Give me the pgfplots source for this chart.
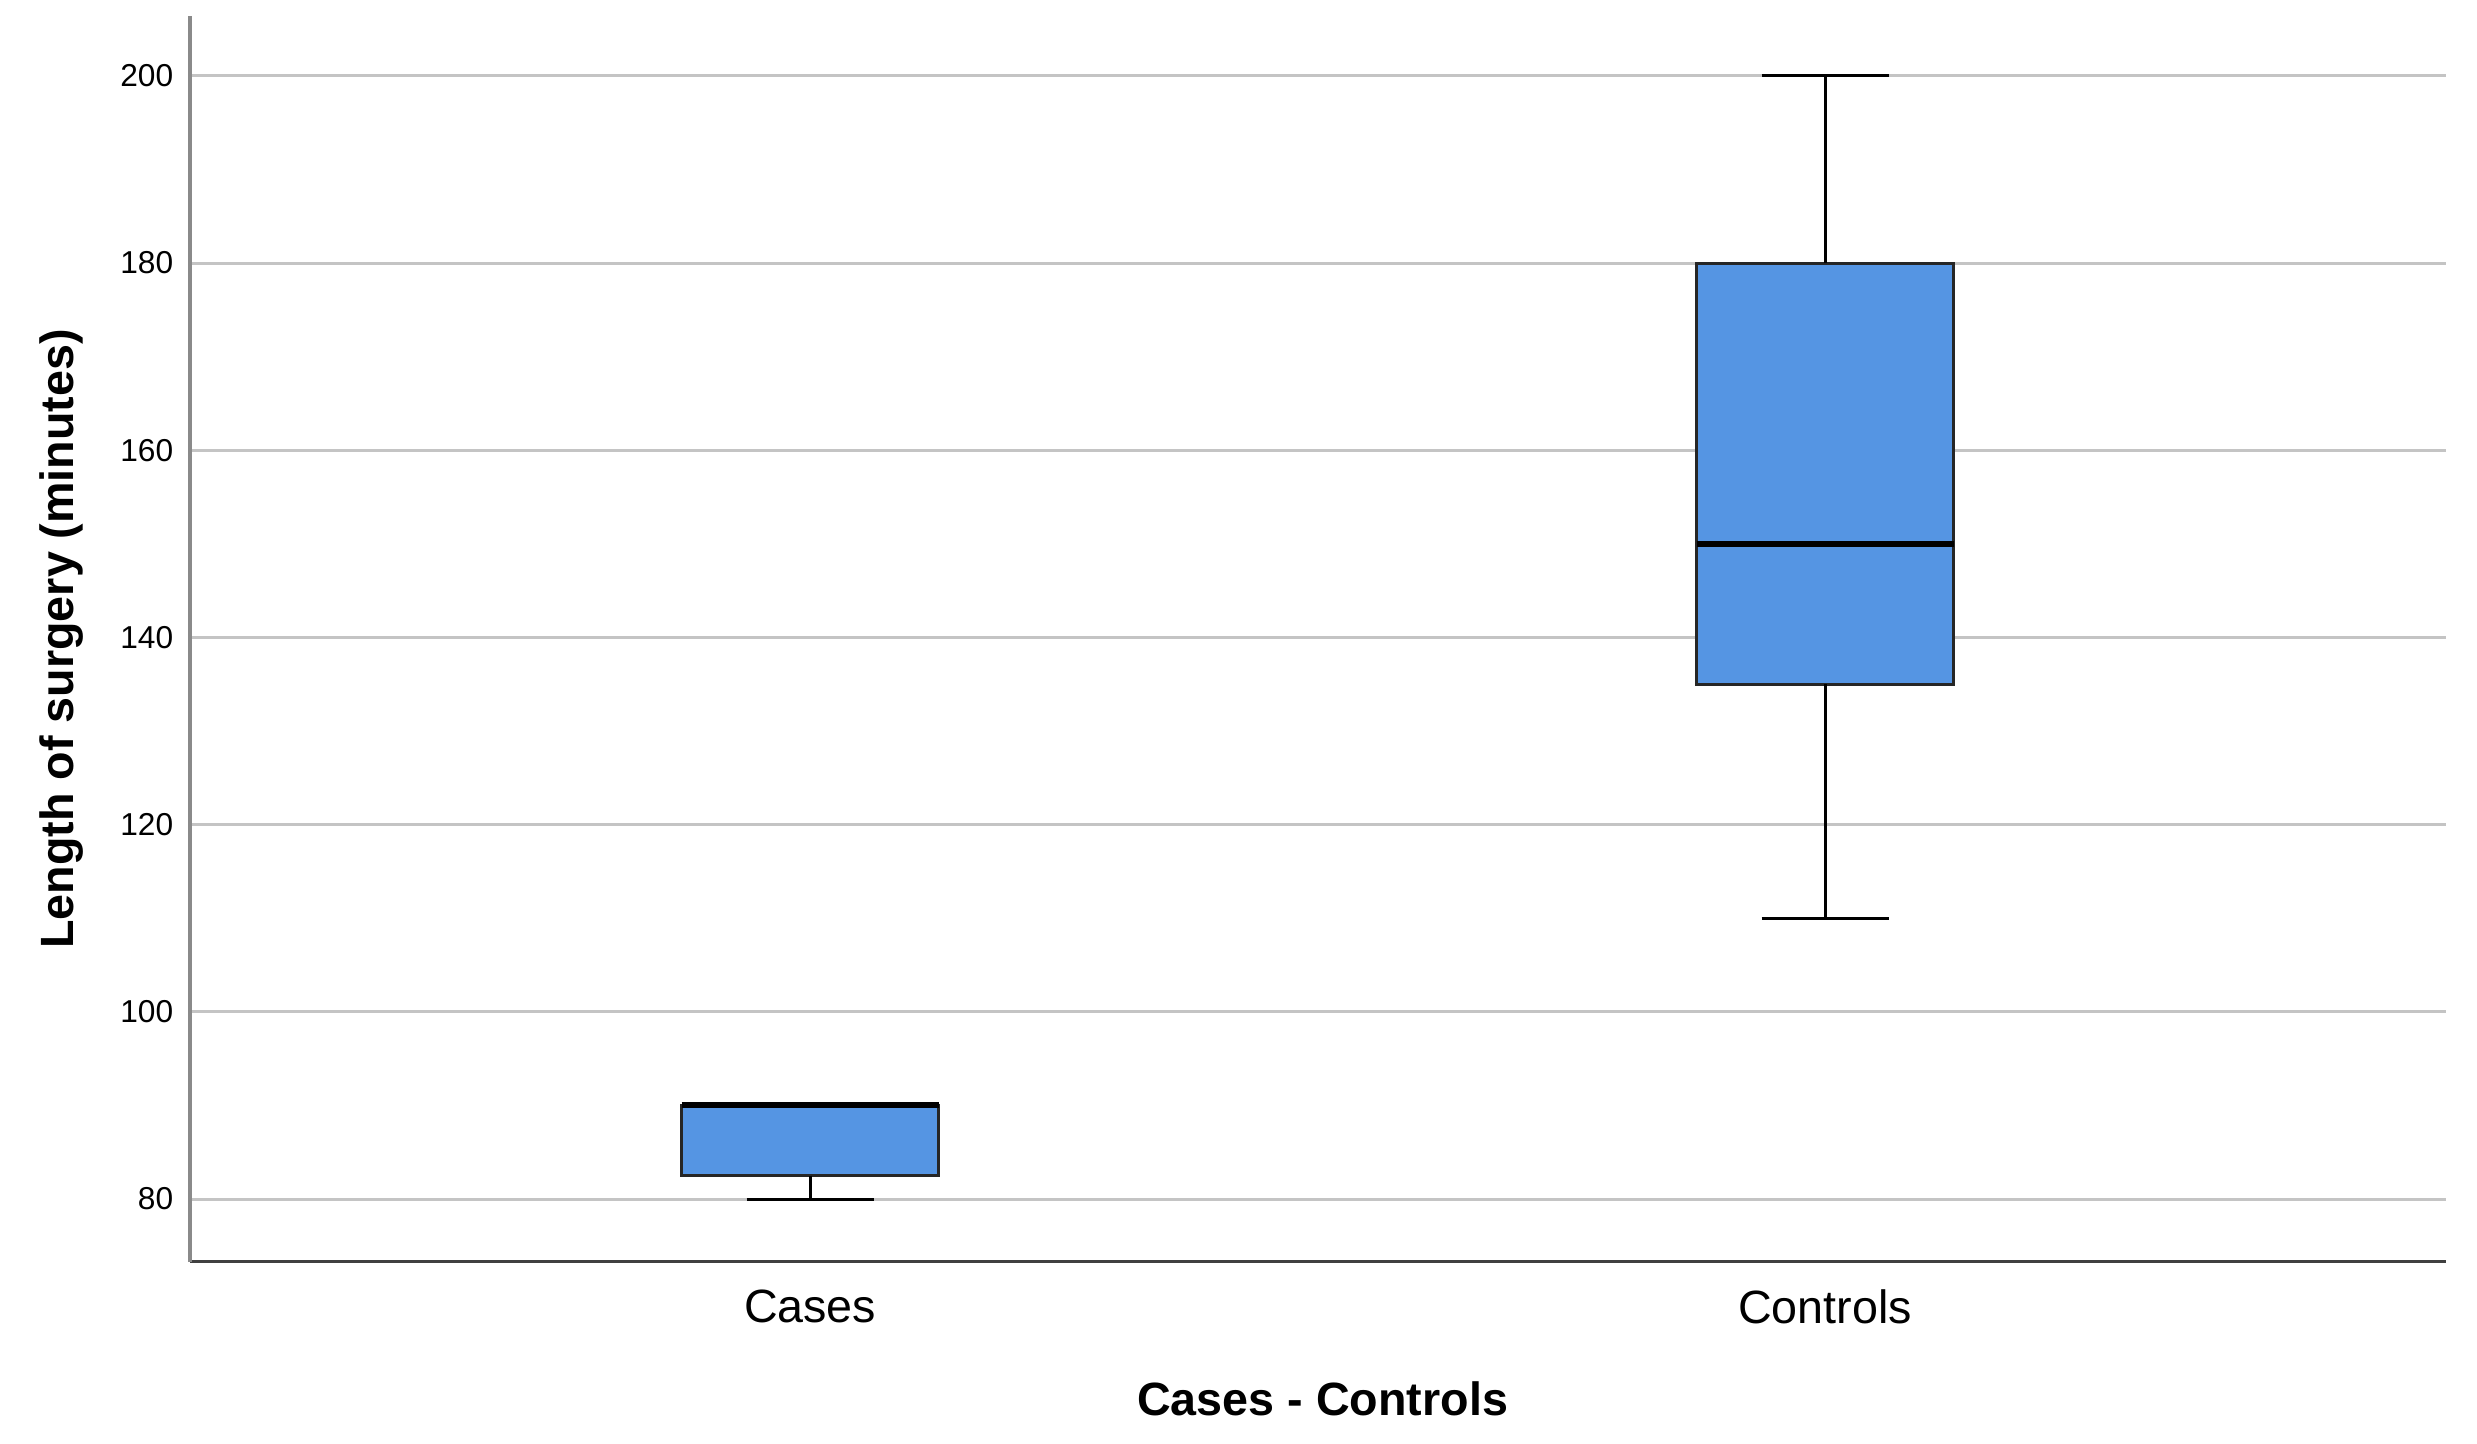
\documentclass[border=0pt]{standalone}
\usepackage{fontspec}
\setmainfont{Liberation Sans}
\usepackage{pgfplots}
\pgfplotsset{compat=1.18}
\definecolor{boxblue}{HTML}{5595E3}
\definecolor{gridgray}{HTML}{C4C4C4}
\definecolor{yaxgray}{HTML}{8A8A8A}
\definecolor{xaxgray}{HTML}{404040}

\begin{document}
\begin{tikzpicture}
\begin{axis}[
  scale only axis,
  width=677pt,
  height=373.8pt,
  xmin=0.389, xmax=2.612,
  ymin=73.3, ymax=206.4,
  axis lines*=left,
  x axis line style={draw=xaxgray, line width=0.9pt},
  y axis line style={draw=yaxgray, line width=1.1pt},
  xtick={1,2},
  xticklabels={Cases,Controls},
  ytick={80,100,...,200},
  major tick length=0pt,
  ymajorgrids,
  major grid style={gridgray, line width=0.9pt},
  /pgf/number format/assume math mode=true,
  yticklabel style={font=\fontsize{9.5}{10}\selectfont, xshift=-1.5pt},
  xticklabel style={font=\fontsize{14}{16}\selectfont, anchor=center, yshift=-13.5pt},
  xlabel={Cases - Controls},
  ylabel={Length of surgery (minutes)},
  xlabel style={font=\bfseries\fontsize{14}{16}\selectfont, at={(axis description cs:0.502,-0.110)}, anchor=center},
  ylabel style={font=\bfseries\fontsize{14}{16}\selectfont, at={(axis description cs:-0.057,0.5)}, anchor=center},
  clip=false,
  boxs/.style={draw=black!85, fill=boxblue, line width=0.9pt, mark=none},
  whisk/.style={black, line width=0.9pt, mark=none},
  med/.style={black, line width=1.8pt, mark=none},
]

% ---- Cases: whisker 80, Q1 82.5, median 90, Q3 90, max 90
\addplot[boxs] coordinates {(0.8735,82.5) (1.1265,82.5) (1.1265,90) (0.8735,90)} -- cycle;
\addplot[whisk] coordinates {(1,82.5) (1,80)};
\addplot[whisk] coordinates {(0.9375,80) (1.0625,80)};
\addplot[med] coordinates {(0.8735,90) (1.1265,90)};

% ---- Controls: 110, 135, 150, 180, 200
\addplot[boxs] coordinates {(1.8735,135) (2.1265,135) (2.1265,180) (1.8735,180)} -- cycle;
\addplot[whisk] coordinates {(2,135) (2,110)};
\addplot[whisk] coordinates {(1.9375,110) (2.0625,110)};
\addplot[whisk] coordinates {(2,180) (2,200)};
\addplot[whisk] coordinates {(1.9375,200) (2.0625,200)};
\addplot[med] coordinates {(1.8735,150) (2.1265,150)};

% page frame
\path (rel axis cs:-0.0842,-0.146) rectangle (rel axis cs:1.0136,1.0128);
\end{axis}
\end{tikzpicture}
\end{document}
